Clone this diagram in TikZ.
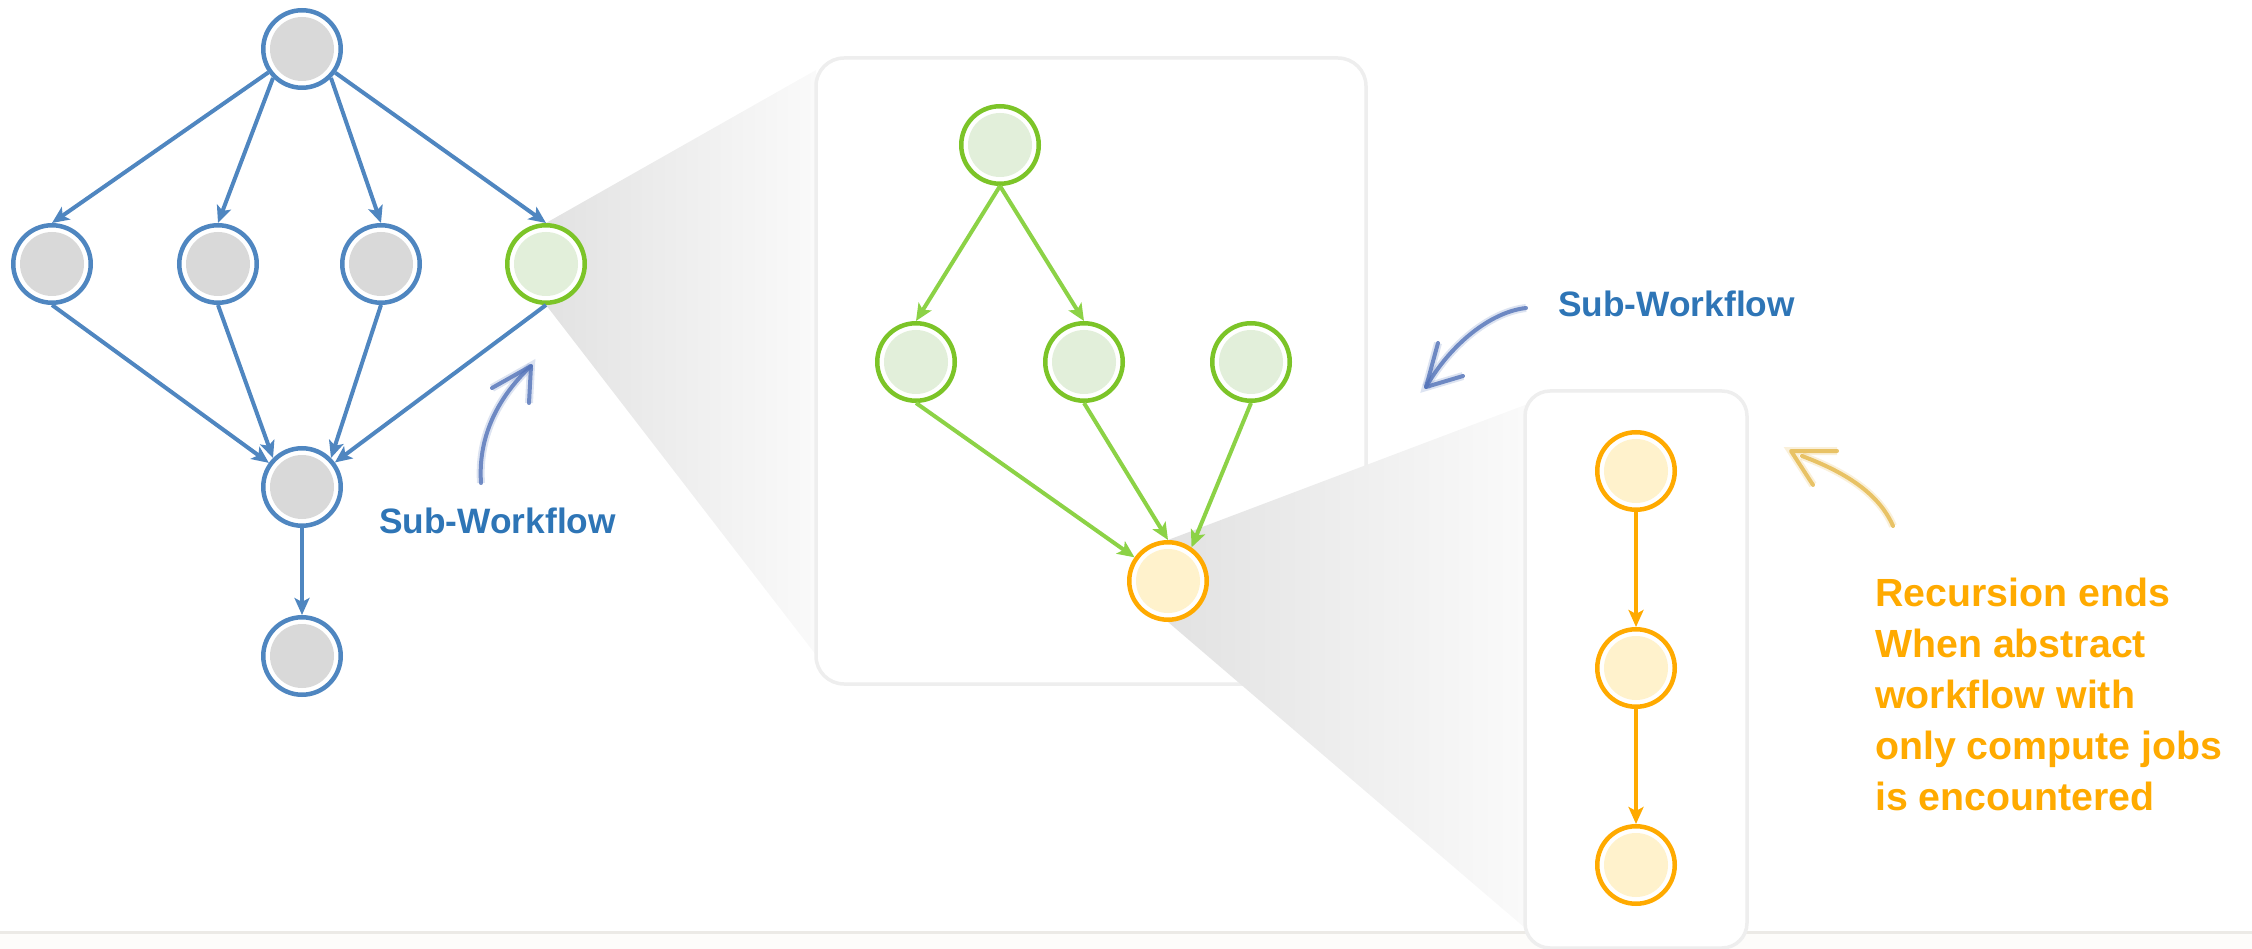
\documentclass[tikz,border=0pt]{standalone}
\usepackage{fontspec}
\setmainfont{Liberation Sans}
\usetikzlibrary{arrows.meta}

\definecolor{edgeblue}{RGB}{79,134,192}
\definecolor{jobgray}{RGB}{217,217,217}
\definecolor{jobgreen}{RGB}{124,196,40}
\definecolor{edgegreen}{RGB}{140,210,70}
\definecolor{fillgreen}{RGB}{226,239,218}
\definecolor{joborange}{RGB}{255,170,0}
\definecolor{fillorange}{RGB}{255,242,204}
\definecolor{textblue}{RGB}{46,117,182}
\definecolor{handblue}{RGB}{82,114,184}
\definecolor{handorange}{RGB}{228,182,72}
\definecolor{boxgray}{RGB}{238,238,238}
\definecolor{shadedark}{RGB}{226,226,226}
\definecolor{shadelight}{RGB}{250,250,250}
\definecolor{bandline}{RGB}{236,234,230}
\definecolor{bandfill}{RGB}{253,252,250}

\tikzset{
  job/.style 2 args={circle, draw=#1, line width=4.5pt, fill=white, minimum size=77.5pt,
    inner sep=0pt, path picture={\fill[#2] (path picture bounding box.center) circle (32pt);}},
  flow/.style={draw=#1, line width=4pt, -{Stealth[length=17pt,width=15pt,inset=4pt]}},
  hand/.style={draw=#1, line width=4pt, line cap=round, line join=round, opacity=.8,
    preaction={draw=#1, line width=8pt, opacity=.2}},
  panel/.style={draw=boxgray, line width=3.5pt, fill=white, rounded corners=28pt},
  note/.style={inner sep=0pt, font=\bfseries\fontsize{35.3}{40}\selectfont, text=textblue}
}

\begin{document}
\begin{tikzpicture}[x=1pt,y=-1pt]
  \useasboundingbox (0,0) rectangle (2252,949);
  % zoom shadows
  \shade[left color=shadedark, right color=shadelight] (546,223) -- (816,70) -- (816,655) -- (546,305) -- cycle;
  \fill[bandfill] (0,932) rectangle (2252,949);
  \draw[bandline, line width=3pt] (0,932) -- (2252,932);
  \draw[panel] (816,58) rectangle (1366,684);
  \shade[left color=shadedark, right color=shadelight] (1168,540) -- (1525,405) -- (1525,928) -- (1168,622) -- cycle;
  \draw[panel, rounded corners=25pt] (1525,391) rectangle (1747,948);

  % abstract workflow
  \node[job={edgeblue}{jobgray}] (top) at (302,49) {};
  \node[job={edgeblue}{jobgray}] (a) at (52,264) {};
  \node[job={edgeblue}{jobgray}] (b) at (218,264) {};
  \node[job={edgeblue}{jobgray}] (c) at (381,264) {};
  \node[job={jobgreen}{fillgreen}] (d) at (546,264) {};
  \node[job={edgeblue}{jobgray}] (e) at (302,487) {};
  \node[job={edgeblue}{jobgray}] (f) at (302,656) {};
  \draw[flow=edgeblue] (top) -- (a.north);
  \draw[flow=edgeblue] (top.south west) -- (b.north);
  \draw[flow=edgeblue] (top.south east) -- (c.north);
  \draw[flow=edgeblue] (top) -- (d.north);
  \draw[flow=edgeblue] (a.south) -- (e);
  \draw[flow=edgeblue] (b.south) -- (e.north west);
  \draw[flow=edgeblue] (c.south) -- (e.north east);
  \draw[flow=edgeblue] (d.south) -- (e);
  \draw[flow=edgeblue] (e) -- (f);

  % sub-workflow
  \node[job={jobgreen}{fillgreen}] (sa) at (1000,145) {};
  \node[job={jobgreen}{fillgreen}] (sb) at (916,362) {};
  \node[job={jobgreen}{fillgreen}] (sc) at (1084,362) {};
  \node[job={jobgreen}{fillgreen}] (sd) at (1251,362) {};
  \node[job={joborange}{fillorange}] (se) at (1168,581) {};
  \draw[flow=edgegreen] (sa.south) -- (sb.north);
  \draw[flow=edgegreen] (sa.south) -- (sc.north);
  \draw[flow=edgegreen] (sb.south) -- (se);
  \draw[flow=edgegreen] (sc.south) -- (se.north);
  \draw[flow=edgegreen] (sd.south) -- (se.55);

  % compute jobs only
  \node[job={joborange}{fillorange}] (ra) at (1636,471) {};
  \node[job={joborange}{fillorange}] (rb) at (1636,668) {};
  \node[job={joborange}{fillorange}] (rc) at (1636,865) {};
  \draw[flow=joborange] (ra) -- (rb);
  \draw[flow=joborange] (rb) -- (rc);

  % labels
  \node[note, anchor=base west] (lab1) at (379,533) {Sub-Workflow};
  \node[note, anchor=base west] (lab2) at (1558,317) {Sub-Workflow};
  \node[inner sep=0pt, anchor=north west, align=left, text=joborange,
    font=\bfseries\fontsize{39.3}{51}\selectfont] (ends) at (1875,578)
    {Recursion ends\\When abstract\\workflow with\\only compute jobs\\is encountered};
  \draw[hand=handblue] (481,483) .. controls (478,440) and (495,400) .. (531,366);
  \draw[hand=handblue] (492,388) -- (531,366) -- (529,403);
  \draw[hand=handblue] (1526,308) .. controls (1490,312) and (1450,345) .. (1426,387);
  \draw[hand=handblue] (1438,343) -- (1426,387) -- (1463,376);
  \draw[hand=handorange] (1893,526) .. controls (1880,496) and (1850,474) .. (1802,456);
  \draw[hand=handorange] (1837,451) -- (1791,451) -- (1813,485);
\end{tikzpicture}
\end{document}
